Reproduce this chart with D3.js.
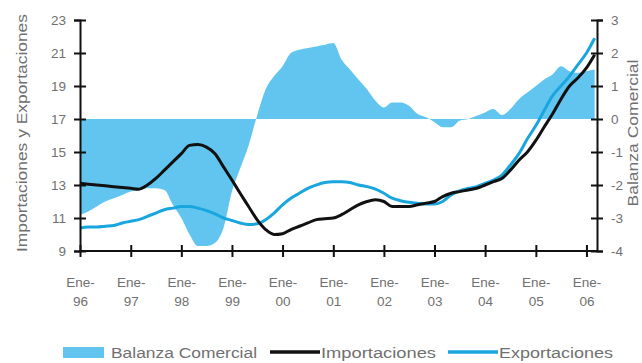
<!DOCTYPE html>
<html><head><meta charset="utf-8">
<script src="https://cdn.jsdelivr.net/npm/d3@7"></script>
<style>
html,body{margin:0;padding:0;background:#fff;}
svg{display:block;font-family:"Liberation Sans",Arial,sans-serif;}
</style></head>
<body><svg id="c" width="642" height="363"></svg>
<script>
// Bimonthly observations, Ene-96 .. Mar-06
const startMonth = "1996-01";
const endMonth = "2006-03";
const importaciones = [13.1,13.05,13.0,12.95,12.9,12.85,12.8,12.75,13.0,13.4,13.9,14.4,14.9,15.4,15.45,15.3,14.9,14.1,13.3,12.5,11.7,10.9,10.3,10.0,10.05,10.3,10.5,10.7,10.9,10.95,11.0,11.2,11.5,11.8,12.0,12.1,12.0,11.7,11.7,11.7,11.8,11.9,12.0,12.3,12.5,12.6,12.7,12.8,13.0,13.2,13.4,13.9,14.5,15.0,15.7,16.5,17.3,18.2,19.0,19.5,20.1,20.9];
const exportaciones = [10.4,10.45,10.45,10.5,10.55,10.7,10.8,10.9,11.1,11.3,11.5,11.6,11.7,11.7,11.6,11.45,11.25,11.0,10.85,10.7,10.6,10.65,10.9,11.3,11.8,12.2,12.5,12.8,13.0,13.15,13.2,13.2,13.15,13.0,12.9,12.75,12.5,12.2,12.05,11.95,11.9,11.85,11.85,12.0,12.4,12.65,12.8,12.9,13.1,13.3,13.6,14.2,14.9,15.8,16.6,17.5,18.4,19.0,19.6,20.3,21.0,21.9];
const balanza = [-2.9,-2.8,-2.65,-2.5,-2.4,-2.3,-2.2,-2.15,-2.1,-2.1,-2.15,-2.6,-3.0,-3.5,-3.85,-3.85,-3.75,-3.3,-2.2,-1.5,-0.8,0.1,0.9,1.3,1.6,2.0,2.1,2.15,2.2,2.25,2.3,1.8,1.5,1.2,0.9,0.55,0.35,0.5,0.5,0.4,0.15,0.05,-0.1,-0.25,-0.25,-0.05,0.0,0.1,0.2,0.3,0.12,0.3,0.6,0.8,1.0,1.2,1.35,1.6,1.45,1.4,1.45,1.5];
const leftTicks = [9,11,13,15,17,19,21,23];
const rightTicks = [-4,-3,-2,-1,0,1,2,3];
const yearLabels = ["96","97","98","99","00","01","02","03","04","05","06"];
const monthLabel = "Ene-";
const legendLabels = ["Balanza Comercial","Importaciones","Exportaciones"];
const leftTitle = "Importaciones y Exportaciones";
const rightTitle = "Balanza Comercial";

const parse = d3.timeParse("%Y-%m");
const dates = d3.timeMonth.range(parse(startMonth), d3.timeMonth.offset(parse(endMonth),1), 2);
const data = dates.map((d,i)=>({date:d, imp:importaciones[i], exp:exportaciones[i], bal:balanza[i]}));

const svg = d3.select("#c");
const L=80, R=597, T=20, B=251;
const x = d3.scaleTime().domain([new Date(1996,0,1), new Date(2006,2,18)]).range([L,R]);
const yL = d3.scaleLinear().domain([9,23]).range([B,T]);
const yR = d3.scaleLinear().domain([-4,3]).range([B,T]);

const areaBlue = "#62c5f0", lineBlue = "#19a5de", txt = "#707070";

svg.append("path").datum(data)
  .attr("fill", areaBlue)
  .attr("d", d3.area().x(d=>x(d.date)).y0(yR(0)).y1(d=>yR(d.bal)).curve(d3.curveMonotoneX));

svg.append("path").datum(data).attr("fill","none").attr("stroke",lineBlue).attr("stroke-width",3)
  .attr("d", d3.line().x(d=>x(d.date)).y(d=>yL(d.exp)).curve(d3.curveMonotoneX));
svg.append("path").datum(data).attr("fill","none").attr("stroke","#111").attr("stroke-width",3)
  .attr("d", d3.line().x(d=>x(d.date)).y(d=>yL(d.imp)).curve(d3.curveMonotoneX));

// Axes
function styleAxis(g){
  g.select(".domain").attr("stroke","#111").attr("stroke-width",2);
  g.selectAll(".tick line").attr("stroke","#111").attr("stroke-width",2);
  g.selectAll(".tick text").attr("fill",txt).attr("font-size",13.5);
}
const gL = svg.append("g").attr("transform",`translate(${L},0)`)
  .call(d3.axisLeft(yL).tickValues(leftTicks).tickSizeOuter(0).tickSize(6).tickPadding(8));
styleAxis(gL);
gL.selectAll(".tick line").attr("x1",6);
gL.selectAll(".tick text").attr("dy","0.35em");

const gR = svg.append("g").attr("transform",`translate(${R},0)`)
  .call(d3.axisRight(yR).tickValues(rightTicks).tickSizeOuter(0).tickSize(6).tickPadding(8).tickFormat(d=>String(d)));
styleAxis(gR);
gR.selectAll(".tick line").attr("x1",-6);

const yearTicks = d3.timeYear.range(new Date(1996,0,1), new Date(2006,1,1));
const gX = svg.append("g").attr("transform",`translate(0,${B})`)
  .call(d3.axisBottom(x).tickValues(yearTicks).tickSizeOuter(0).tickSize(6).tickFormat(""));
styleAxis(gX);
gX.selectAll(".tick line").attr("y1",-6);
gX.select(".domain").attr("d", `M${L},0H${R}`);
gX.selectAll(".tick").each(function(d,i){
  const t = d3.select(this);
  t.append("text").attr("y",36).attr("fill",txt).attr("font-size",13.5).attr("text-anchor","middle").text(monthLabel);
  t.append("text").attr("y",55).attr("fill",txt).attr("font-size",13.5).attr("text-anchor","middle").text(yearLabels[i]);
});

// Titles
svg.append("text").attr("transform","translate(27,133) rotate(-90)")
  .attr("text-anchor","middle").attr("fill",txt).attr("font-size",14)
  .attr("textLength",238).attr("lengthAdjust","spacingAndGlyphs").text(leftTitle);
svg.append("text").attr("transform","translate(637.5,133) rotate(-90)")
  .attr("text-anchor","middle").attr("fill",txt).attr("font-size",14)
  .attr("textLength",147).attr("lengthAdjust","spacingAndGlyphs").text(rightTitle);

// Legend
const lg = svg.append("g");
lg.append("rect").attr("x",63).attr("y",347).attr("width",41).attr("height",11).attr("fill",areaBlue);
lg.append("text").attr("x",111).attr("y",357.5).attr("fill",txt).attr("font-size",14)
  .attr("textLength",146).attr("lengthAdjust","spacingAndGlyphs").text(legendLabels[0]);
lg.append("line").attr("x1",270).attr("x2",320).attr("y1",352).attr("y2",352).attr("stroke","#111").attr("stroke-width",3.5);
lg.append("text").attr("x",321).attr("y",357.5).attr("fill",txt).attr("font-size",14)
  .attr("textLength",115).attr("lengthAdjust","spacingAndGlyphs").text(legendLabels[1]);
lg.append("line").attr("x1",448).attr("x2",498).attr("y1",352).attr("y2",352).attr("stroke",lineBlue).attr("stroke-width",3.5);
lg.append("text").attr("x",499).attr("y",357.5).attr("fill",txt).attr("font-size",14)
  .attr("textLength",114).attr("lengthAdjust","spacingAndGlyphs").text(legendLabels[2]);
</script></body></html>
